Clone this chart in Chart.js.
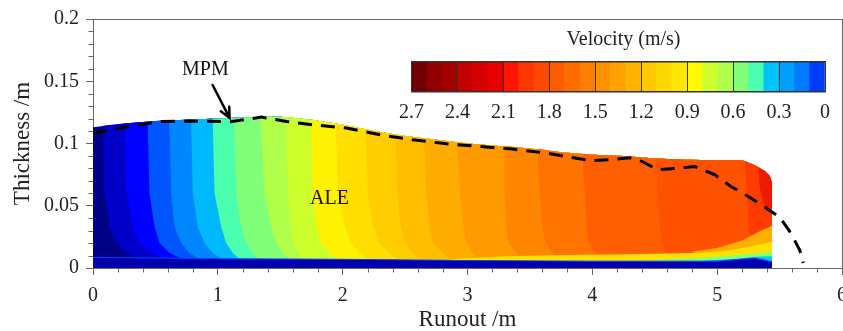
<!DOCTYPE html>
<html>
<head>
<meta charset="utf-8">
<script src="https://cdn.jsdelivr.net/npm/chart.js@4.4.1/dist/chart.umd.min.js"></script>
<style>
  html, body { margin: 0; padding: 0; background: #fff; overflow: hidden; }
  #wrap { position: relative; width: 843px; height: 331px; }
  #main { position: absolute; left: 0; top: 0; }
  #bar { position: absolute; left: 390px; top: 20px; }
</style>
</head>
<body>
<div id="wrap">
  <canvas id="main" width="843" height="331"></canvas>
  <canvas id="bar" width="466" height="110"></canvas>
</div>
<script>
// ALE free surface (runout m, thickness m)
const topX = [0, 0.25, 0.5, 0.75, 1.0, 1.25, 1.5, 1.75, 2.0, 2.25, 2.5, 2.75, 3.0, 3.25, 3.5, 3.75, 4.0, 4.25, 4.5, 4.75, 5.0, 5.2, 5.3, 5.38, 5.42, 5.44];
const topY = [0.113, 0.116, 0.118, 0.119, 0.120, 0.121, 0.1215, 0.119, 0.115, 0.110, 0.106, 0.103, 0.100, 0.098, 0.096, 0.093, 0.091, 0.090, 0.088, 0.087, 0.0865, 0.0865, 0.0825, 0.078, 0.074, 0.068];

// velocity contour lines: where they meet the surface, then x at fixed heights
const levelHeights = [0.06, 0.033, 0.02, 0.012, 0.007];
const contourTopX = [0.078, 0.25, 0.437, 0.61, 0.785, 0.958, 1.13, 1.34, 1.545, 1.745, 1.945, 2.185, 2.425, 2.65, 2.915, 3.295, 3.56, 3.92, 4.51, 5.22];
const contourTopY = [0.1143, 0.116, 0.1175, 0.1186, 0.1195, 0.120, 0.1205, 0.1212, 0.1213, 0.119, 0.1154, 0.111, 0.1067, 0.1036, 0.1004, 0.0982, 0.0959, 0.0918, 0.0879, 0.0862];
const contourX = [
  [0.092, 0.132, 0.186, 0.266, 0.373],
  [0.271, 0.319, 0.373, 0.479, 0.587],
  [0.453, 0.493, 0.533, 0.613, 0.72],
  [0.627, 0.653, 0.707, 0.773, 0.853],
  [0.80, 0.84, 0.893, 0.96, 1.04],
  [0.974, 1.027, 1.067, 1.12, 1.174],
  [1.147, 1.187, 1.227, 1.28, 1.334],
  [1.374, 1.428, 1.468, 1.521, 1.575],
  [1.561, 1.585, 1.61, 1.641, 1.68],
  [1.761, 1.795, 1.83, 1.895, 1.95],
  [1.962, 2.02, 2.07, 2.135, 2.20],
  [2.202, 2.245, 2.29, 2.376, 2.43],
  [2.44, 2.465, 2.50, 2.56, 2.62],
  [2.67, 2.695, 2.725, 2.80, 2.86],
  [2.94, 2.965, 2.99, 3.04, 3.10],
  [3.297, 3.31, 3.325, 3.39, 3.44],
  [3.578, 3.60, 3.625, 3.684, 3.73],
  [3.94, 3.955, 3.97, 4.03, 4.08],
  [4.526, 4.54, 4.555, 4.593, 4.63],
  [5.24, 5.25, 5.27, 5.30, 5.32]
];
// colour on the right side of each contour
const bandColors = [
  'rgb(0,0,200)', 'rgb(0,0,255)', 'rgb(0,85,255)', 'rgb(0,135,255)', 'rgb(0,185,255)',
  'rgb(75,255,175)', 'rgb(130,255,120)', 'rgb(175,255,75)', 'rgb(205,255,45)', 'rgb(255,242,0)',
  'rgb(255,222,0)', 'rgb(255,205,0)', 'rgb(255,190,0)', 'rgb(255,172,0)', 'rgb(255,155,0)',
  'rgb(255,135,0)', 'rgb(255,115,0)', 'rgb(255,95,0)', 'rgb(255,82,0)', 'rgb(255,60,0)'
];
const rearColor = 'rgb(0,0,130)';

// fast red zone at the front
const tipX = [5.33, 5.34, 5.37, 5.41, 5.44];
const tipY = [0.081, 0.065, 0.052, 0.047, 0.045];
const tipColor = 'rgb(235,28,0)';

// slower layers near the base
const warmX = [4.8, 5.0, 5.2, 5.35, 5.44];
const warmY = [0.013, 0.016, 0.022, 0.030, 0.034];
const yellowX = [2.85, 3.3, 3.8, 4.3, 4.8, 5.05, 5.2, 5.35, 5.44];
const yellowY = [0.007, 0.0095, 0.0105, 0.011, 0.012, 0.0135, 0.016, 0.019, 0.021];
const greenX = [4.5, 4.9, 5.15, 5.35, 5.44];
const greenY = [0.0065, 0.0085, 0.0105, 0.012, 0.013];
const cyanX = [4.9, 5.15, 5.3, 5.44];
const cyanY = [0.006, 0.0075, 0.009, 0.0095];
const baseX = [0, 1.0, 2.0, 3.0, 4.0, 5.0, 5.3, 5.44];
const baseY = [0.0085, 0.0075, 0.007, 0.006, 0.0055, 0.0055, 0.008, 0.005];

// MPM free surface
const mpmX = [0, 0.3, 0.55, 0.8, 1.1, 1.35, 1.55, 1.76, 2.03, 2.3, 2.56, 2.83, 3.1, 3.36, 3.63, 3.85, 4.0, 4.15, 4.3, 4.4, 4.52, 4.67, 4.82, 4.98, 5.11, 5.25, 5.38, 5.5, 5.59, 5.66, 5.69];
const mpmY = [0.108, 0.114, 0.1177, 0.118, 0.1175, 0.1212, 0.1177, 0.115, 0.1124, 0.107, 0.103, 0.0998, 0.0976, 0.0955, 0.0923, 0.0885, 0.0862, 0.087, 0.0885, 0.0855, 0.079, 0.080, 0.0815, 0.075, 0.0655, 0.0575, 0.049, 0.041, 0.028, 0.0147, 0.004];

// axes
const xTicks = [0, 1, 2, 3, 4, 5, 6];
const yTicks = [0, 0.05, 0.1, 0.15, 0.2];

// colour bar
const cbTicks = [2.7, 2.4, 2.1, 1.8, 1.5, 1.2, 0.9, 0.6, 0.3, 0];
const cbStep = 0.1;
const cbColors = [
  'rgb(0,60,255)', 'rgb(0,125,255)', 'rgb(0,160,255)', 'rgb(0,195,255)', 'rgb(75,255,175)',
  'rgb(130,255,120)', 'rgb(175,255,75)', 'rgb(205,255,45)', 'rgb(255,250,0)', 'rgb(255,230,0)',
  'rgb(255,215,0)', 'rgb(255,200,0)', 'rgb(255,178,0)', 'rgb(255,162,0)', 'rgb(255,145,0)',
  'rgb(255,125,0)', 'rgb(255,108,0)', 'rgb(255,92,0)', 'rgb(255,72,0)', 'rgb(255,55,0)',
  'rgb(255,20,0)', 'rgb(232,0,0)', 'rgb(215,0,0)', 'rgb(195,0,0)', 'rgb(165,0,0)',
  'rgb(145,0,0)', 'rgb(115,0,0)'
];

const serif = '"Liberation Serif", "Times New Roman", serif';
const textColor = '#222';
const axisColor = '#666';

// label anchors in data units
const mpmLabelAt = [0.90, 0.1596];
const aleLabelAt = [1.895, 0.0556];
const arrowFrom = [0.958, 0.147];
const arrowTo = [1.094, 0.1206];

const pts = (xs, ys) => xs.map((x, i) => ({x, y: ys[i]}));
const surface = pts(topX, topY);
const frontX = topX[topX.length - 1];
const baseTop = levelHeights[levelHeights.length - 1];

const datasets = [];
let order = 1000;
const hidden = data => ({data, borderWidth: 0, borderColor: 'transparent', pointRadius: 0, fill: false, order: 0});
const area = (data, color, fill) => ({data, backgroundColor: color, borderWidth: 0, borderColor: 'transparent', pointRadius: 0, fill, order: order--});

// whole ALE body
datasets.push(area(surface, rearColor, 'origin'));

// each band = region right of its contour, painted over the previous ones
contourTopX.forEach((x0, k) => {
  const y0 = contourTopY[k];
  const lower = [{x: x0, y: y0}, ...contourX[k].map((x, i) => ({x, y: levelHeights[i]})), {x: frontX, y: baseTop}];
  const upper = [{x: x0, y: y0}, ...surface.filter(p => p.x > x0)];
  datasets.push(hidden(lower));
  datasets.push(area(upper, bandColors[k], datasets.length - 1));
});

// red front
datasets.push(hidden(pts(tipX, tipY)));
datasets.push(area([{x: tipX[0], y: tipY[0]}, ...surface.filter(p => p.x > tipX[0])], tipColor, datasets.length - 1));

// base layers
datasets.push(area(pts(warmX, warmY), 'rgb(255,175,0)', 'origin'));
datasets.push(area(pts(yellowX, yellowY), 'rgb(255,225,0)', 'origin'));
datasets.push(area(pts(greenX, greenY), 'rgb(140,255,110)', 'origin'));
datasets.push(area(pts(cyanX, cyanY), 'rgb(0,200,255)', 'origin'));
const base = area(pts(baseX, baseY), 'rgb(0,0,175)', 'origin');
base.borderWidth = 1; base.borderColor = 'rgb(0,70,255)';
datasets.push(base);

// MPM dashed line
datasets.push({
  data: pts(mpmX, mpmY), borderColor: '#000', borderWidth: 3, borderDash: [14, 9],
  pointRadius: 0, fill: false, order: -10
});

const decorations = {
  id: 'decorations',
  afterDatasetsDraw(chart) {
    const {ctx, scales: {x, y}} = chart;
    ctx.save();
    ctx.fillStyle = '#111';
    ctx.font = '20px ' + serif;
    ctx.textAlign = 'center';
    ctx.textBaseline = 'middle';
    ctx.fillText('MPM', x.getPixelForValue(mpmLabelAt[0]), y.getPixelForValue(mpmLabelAt[1]));
    ctx.fillText('ALE', x.getPixelForValue(aleLabelAt[0]), y.getPixelForValue(aleLabelAt[1]));
    // arrow
    const x1 = x.getPixelForValue(arrowFrom[0]), y1 = y.getPixelForValue(arrowFrom[1]);
    const x2 = x.getPixelForValue(arrowTo[0]), y2 = y.getPixelForValue(arrowTo[1]);
    const a = Math.atan2(y2 - y1, x2 - x1);
    ctx.strokeStyle = '#000';
    ctx.lineWidth = 2.5;
    ctx.lineCap = 'round';
    ctx.beginPath();
    ctx.moveTo(x1, y1); ctx.lineTo(x2, y2);
    ctx.moveTo(x2 - 11 * Math.cos(a - 0.45), y2 - 11 * Math.sin(a - 0.45));
    ctx.lineTo(x2, y2);
    ctx.lineTo(x2 - 11 * Math.cos(a + 0.45), y2 - 11 * Math.sin(a + 0.45));
    ctx.stroke();
    ctx.restore();
  },
  afterDraw(chart) {
    // minor ticks
    const {ctx, chartArea, scales: {x, y}} = chart;
    ctx.save();
    ctx.strokeStyle = axisColor;
    ctx.lineWidth = 1;
    ctx.beginPath();
    for (let i = 1; i < 30; i++) {
      if (i % 5 === 0) continue;
      const px = Math.round(x.getPixelForValue(i * 0.2)) + 0.5;
      ctx.moveTo(px, chartArea.bottom); ctx.lineTo(px, chartArea.bottom + 4.5);
    }
    for (let i = 1; i < 20; i++) {
      if (i % 5 === 0) continue;
      const py = Math.round(y.getPixelForValue(i * 0.01)) + 0.5;
      ctx.moveTo(chartArea.left - 4.5, py); ctx.lineTo(chartArea.left, py);
    }
    ctx.stroke();
    ctx.restore();
  }
};

const tickFont = {family: serif, size: 20};
const titleFont = {family: serif, size: 23, lineHeight: 1};

new Chart(document.getElementById('main'), {
  type: 'line',
  data: {datasets},
  plugins: [decorations],
  options: {
    responsive: false,
    animation: false,
    events: [],
    layout: {padding: {left: 0, right: 1, top: 19, bottom: 0}},
    plugins: {legend: {display: false}, tooltip: {enabled: false}},
    elements: {line: {tension: 0}},
    scales: {
      x: {
        type: 'linear', position: 'bottom', min: 0, max: 6,
        afterBuildTicks: s => { s.ticks = xTicks.map(v => ({value: v})); },
        ticks: {font: tickFont, color: textColor, padding: 9, maxRotation: 0, callback: v => String(v)},
        grid: {drawOnChartArea: false, tickLength: 7, color: axisColor},
        border: {color: axisColor},
        title: {display: true, text: 'Runout /m', font: titleFont, color: textColor, padding: {top: 0, bottom: 0}},
        afterFit: s => { s.height = 63; s.paddingLeft = 0; s.paddingRight = 0; }
      },
      y: {
        type: 'linear', position: 'left', min: 0, max: 0.2,
        afterBuildTicks: s => { s.ticks = yTicks.map(v => ({value: v})); },
        ticks: {font: tickFont, color: textColor, padding: 7, callback: v => String(v)},
        grid: {drawOnChartArea: false, tickLength: 7, color: axisColor},
        border: {color: axisColor},
        title: {display: true, text: 'Thickness /m', font: titleFont, color: textColor, padding: {top: 11, bottom: 0}},
        afterFit: s => { s.width = 93; s.paddingTop = 0; s.paddingBottom = 0; }
      },
      x2: {
        type: 'linear', position: 'top', min: 0, max: 6,
        ticks: {display: false}, grid: {display: false, drawTicks: false},
        border: {color: axisColor},
        afterFit: s => { s.height = 0; }
      },
      y2: {
        type: 'linear', position: 'right', min: 0, max: 0.2,
        ticks: {display: false}, grid: {display: false, drawTicks: false},
        border: {color: axisColor},
        afterFit: s => { s.width = 0; }
      }
    }
  }
});

// colour bar legend
new Chart(document.getElementById('bar'), {
  type: 'bar',
  data: {
    labels: [''],
    datasets: cbColors.map(c => ({
      data: [cbStep], backgroundColor: c, borderWidth: 0,
      barPercentage: 1, categoryPercentage: 1
    }))
  },
  options: {
    indexAxis: 'y',
    responsive: false,
    animation: false,
    events: [],
    layout: {padding: {left: 16, right: 15, top: 0, bottom: 0}},
    plugins: {
      legend: {display: false},
      tooltip: {enabled: false},
      title: {display: true, text: 'Velocity (m/s)', font: {family: serif, size: 20, weight: 'normal', lineHeight: 1.2}, color: textColor, padding: {top: 8, bottom: 10}}
    },
    scales: {
      x: {
        type: 'linear', stacked: true, reverse: true, min: 0, max: 2.7,
        afterBuildTicks: s => { s.ticks = cbTicks.map(v => ({value: v})); },
        ticks: {font: tickFont, color: textColor, padding: 9, maxRotation: 0, autoSkip: false, callback: v => String(v)},
        grid: {color: '#333', drawTicks: false, z: 1},
        border: {color: '#333', width: 1.5, z: 1},
        afterFit: s => { s.height = 38; }
      },
      x2: {
        type: 'linear', position: 'top', reverse: true, min: 0, max: 2.7,
        ticks: {display: false}, grid: {display: false, drawTicks: false},
        border: {color: '#333', width: 1.5, z: 1},
        afterFit: s => { s.height = 0; }
      },
      y: {
        stacked: true, position: 'right',
        ticks: {display: false}, grid: {display: false, drawTicks: false}, border: {display: false},
        afterFit: s => { s.width = 16; }
      }
    }
  }
});
</script>
</body>
</html>
